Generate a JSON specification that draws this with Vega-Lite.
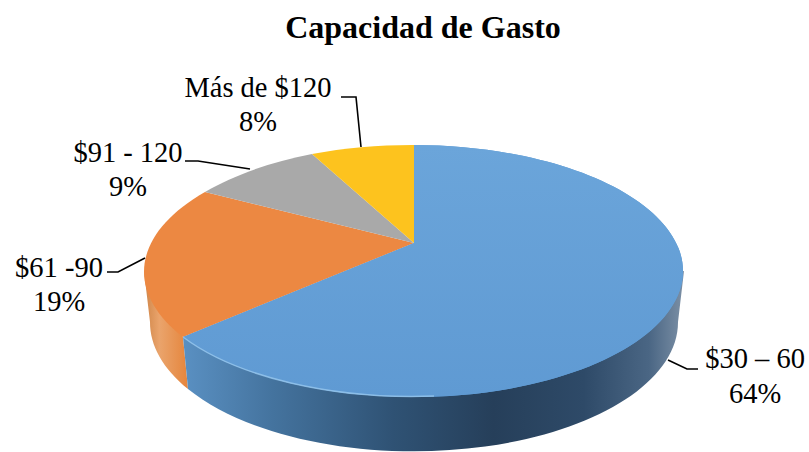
{
"$schema":"https://vega.github.io/schema/vega-lite/v6.json",
"width":809,"height":452,"padding":0,"autosize":{"type":"none"},
"background":"white",
"config":{"view":{"stroke":null}},
"resolve":{"scale":{"shape":"independent"}},
"data":{"values":[
{"slice":"$30 – 60","share":64,"label":"$30 – 60\n64%"},
{"slice":"$61 -90","share":19,"label":"$61 -90\n19%"},
{"slice":"$91 - 120","share":9,"label":"$91 - 120\n9%"},
{"slice":"Más de $120","share":8,"label":"Más de $120\n8%"}
]},
"encoding":{
"x":{"datum":414,"type":"quantitative","scale":{"domain":[0,809],"nice":false,"zero":false},"axis":null},
"y":{"datum":243,"type":"quantitative","scale":{"domain":[452,0],"nice":false,"zero":false},"axis":null}
},
"layer":[
{"transform":[{"filter":"datum.share==19"}],
"mark":{"type":"point","filled":true,"size":4,"opacity":1,"clip":false,"shape":"M-270,28 L-264,79 A264 129 0 0 0 -226,146 L-231,94 Z",
"color":{"gradient":"linear","x1":0,"x2":1,"y1":0,"y2":0,"stops":[{"offset":0,"color":"#cf8548"},{"offset":0.35,"color":"#eaa46c"},{"offset":1,"color":"#e5853c"}]}}},
{"transform":[{"filter":"datum.share==64"}],
"mark":{"type":"point","filled":true,"size":4,"opacity":1,"shape":"M-231,94 L-226,146 A264 129 0 0 0 264,79 L270,28 Z",
"color":{"gradient":"linear","x1":0,"x2":1,"y1":0,"y2":0,"stops":[{"offset":0,"color":"#5a90c2"},{"offset":0.18,"color":"#44739e"},{"offset":0.42,"color":"#2f5274"},{"offset":0.62,"color":"#263f5a"},{"offset":0.8,"color":"#2e4a68"},{"offset":0.93,"color":"#4a6684"},{"offset":1,"color":"#7c90a6"}]}}},
{"mark":{"type":"point","filled":true,"size":4,"opacity":1},
"encoding":{"shape":{"field":"slice","type":"nominal","legend":null,"scale":{"domain":["$30 – 60","$61 -90","$91 - 120","Más de $120"],"range":["M0,0 L0,-98 A270 126 0 1 1 -231,94 Z","M0,0 L-231,94 A270 126 0 0 1 -209,-51 Z","M0,0 L-209,-51 A270 126 0 0 1 -102,-89 Z","M0,0 L-102,-89 A270 126 0 0 1 0,-98 Z"]}},
"color":{"field":"slice","type":"nominal","legend":null,"scale":{"domain":["$30 – 60","$61 -90","$91 - 120","Más de $120"],"range":["#619cd4","#ec8842","#a9a9a9","#fdc31e"]}}}},
{"transform":[{"filter":"datum.share==64"}],
"mark":{"type":"point","filled":true,"size":4,"opacity":1,"shape":"M0,0 L0,-98 A270 126 0 1 1 -231,94 Z",
"color":{"gradient":"linear","x1":0,"x2":0,"y1":0,"y2":1,"stops":[{"offset":0,"color":"#6ba5da"},{"offset":1,"color":"#5f9ad3"}]}}},
{"transform":[{"filter":"datum.share==64"}],
"mark":{"type":"point","filled":false,"size":4,"opacity":0.75,"strokeWidth":1.5,"color":"#9ccbf0","shape":"M-231,94 A270 126 0 0 0 20,153"}},
{"mark":{"type":"point","filled":false,"size":4,"opacity":1,"strokeWidth":1.6,"color":"#000000"},
"encoding":{"shape":{"field":"slice","type":"nominal","legend":null,"scale":{"domain":["$30 – 60","$61 -90","$91 - 120","Más de $120"],"range":["M254,117 L273,126 L284,126","M-307,29 L-296,29 L-269,15","M-229,-82 L-216,-82 L-164,-74","M-73,-146 L-58,-146 L-53,-96"]}}}},
{"transform":[{"filter":"datum.share==64"}],
"mark":{"type":"text","font":"Liberation Serif","fontSize":28.5,"lineBreak":"\n","lineHeight":35,"align":"center","baseline":"alphabetic","color":"#000000"},
"encoding":{"text":{"field":"label"},"x":{"datum":755,"type":"quantitative"},"y":{"datum":368,"type":"quantitative"}}},
{"transform":[{"filter":"datum.share==19"}],
"mark":{"type":"text","font":"Liberation Serif","fontSize":28.5,"lineBreak":"\n","lineHeight":34,"align":"center","baseline":"alphabetic","color":"#000000"},
"encoding":{"text":{"field":"label"},"x":{"datum":59,"type":"quantitative"},"y":{"datum":277,"type":"quantitative"}}},
{"transform":[{"filter":"datum.share==9"}],
"mark":{"type":"text","font":"Liberation Serif","fontSize":28.5,"lineBreak":"\n","lineHeight":34,"align":"center","baseline":"alphabetic","color":"#000000"},
"encoding":{"text":{"field":"label"},"x":{"datum":128,"type":"quantitative"},"y":{"datum":162,"type":"quantitative"}}},
{"transform":[{"filter":"datum.share==8"}],
"mark":{"type":"text","font":"Liberation Serif","fontSize":28.5,"lineBreak":"\n","lineHeight":34,"align":"center","baseline":"alphabetic","color":"#000000"},
"encoding":{"text":{"field":"label"},"x":{"datum":258,"type":"quantitative"},"y":{"datum":97,"type":"quantitative"}}},
{"data":{"values":[{"title":"Capacidad de Gasto"}]},
"mark":{"type":"text","font":"Liberation Serif","fontSize":32,"fontWeight":"bold","align":"center","baseline":"alphabetic","color":"#000000"},
"encoding":{"text":{"field":"title"},"x":{"datum":423,"type":"quantitative"},"y":{"datum":38,"type":"quantitative"}}}
]
}
